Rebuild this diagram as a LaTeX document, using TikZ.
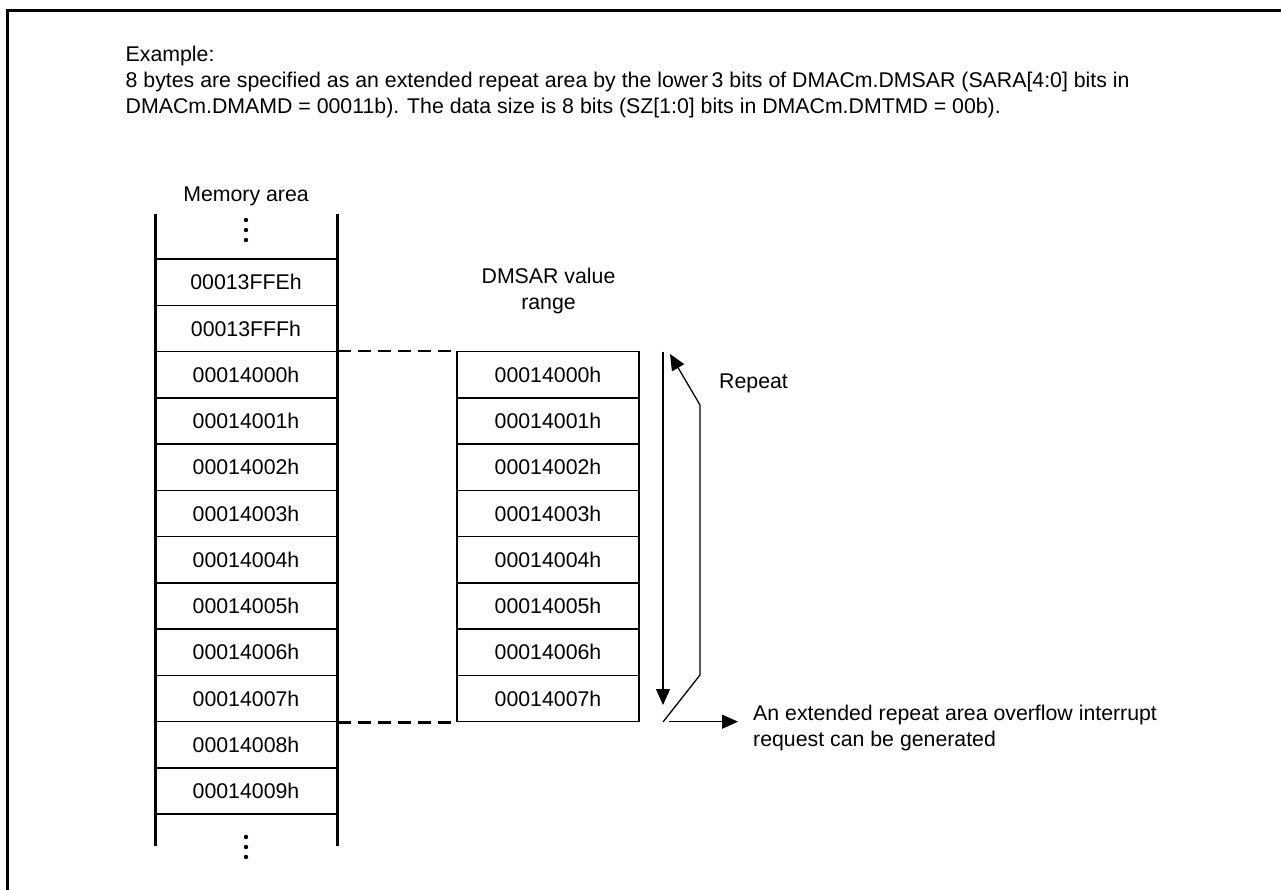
\documentclass[tikz,border=0pt]{standalone}
\usepackage{fontspec}
\setmainfont{Liberation Sans}
\usetikzlibrary{arrows.meta}
\tikzset{
  txt/.style={font=\fontsize{21.3}{25.7}\selectfont, inner sep=0pt},
  cell/.style={txt, draw, line width=1.5pt, minimum width=182pt, minimum height=46.25pt},
  side/.style={line width=3pt},
  dash line/.style={line width=2.7pt, dash pattern=on 13pt off 7pt},
  thin arrow/.style={line width=1.3pt, -{Triangle[length=16pt,width=14pt]}},
  thin line/.style={line width=1.3pt}
}
\begin{document}
\begin{tikzpicture}[x=1pt,y=-1pt]
\useasboundingbox (0,0) rectangle (1281,890);
% frame
\draw[line width=3pt] (7.5,890) -- (7.5,10.5) -- (1281,10.5);
% header
\node[txt, anchor=base west] (h1) at (125.5,62) {Example:};
\node[txt, anchor=base west] (h2) at (125.5,87.7) {8 bytes are specified as an extended repeat area by the lower\,3 bits of DMACm.DMSAR (SARA[4:0] bits in};
\node[txt, anchor=base west] (h3) at (125.5,113.4) {DMACm.DMAMD = 00011b). The data size is 8 bits (SZ[1:0] bits in DMACm.DMTMD = 00b).};
% memory area
\node[txt, anchor=base] (mtitle) at (246,201.7) {Memory area};
\foreach \i/\t in {0/00013FFEh,1/00013FFFh,2/00014000h,3/00014001h,4/00014002h,5/00014003h,6/00014004h,7/00014005h,8/00014006h,9/00014007h,10/00014008h,11/00014009h}{
  \node[cell] (m\i) at (246,{259.2+46.25*(\i+0.5)}) {\t};
}
\coordinate (mtl) at (155,214);
\coordinate (mtr) at (337,214);
\coordinate (mbl) at (155,846);
\coordinate (mbr) at (337,846);
\draw[side] (mtl) -- (mbl);
\draw[side] (mtr) -- (mbr);
\foreach \y in {220,230,240,837,847,857}{
  \fill (246,\y) circle (2.2pt);
}
% DMSAR
\node[txt, anchor=base] (dtitle1) at (548.5,284) {DMSAR value};
\node[txt, anchor=base] (dtitle2) at (548.5,309) {range};
\foreach \i/\t in {2/00014000h,3/00014001h,4/00014002h,5/00014003h,6/00014004h,7/00014005h,8/00014006h,9/00014007h}{
  \node[cell] (d\i) at (548,{259.2+46.25*(\i+0.5)}) {\t};
}
\draw[dash line] (m2.north east) -- (d2.north west);
\draw[dash line] (m9.south east) -- (d9.south west);
% arrows
\coordinate (dtop) at (663,351.7);
\coordinate (dbot) at (663,705);
\draw[thin arrow] (dtop) -- (dbot);
\coordinate (r0) at (663,722);
\coordinate (r1) at (700,675);
\coordinate (r2) at (700,405);
\coordinate (r3) at (670,354);
\draw[thin line] (r0) -- (r1) -- (r2);
\draw[thin arrow] (r2) -- (r3);
\node[txt, anchor=base west] (rep) at (719,388.3) {Repeat};
\coordinate (o0) at (669,721.7);
\node[txt, anchor=base west] (ov1) at (753,720.7) {An extended repeat area overflow interrupt};
\node[txt, anchor=base west] (ov2) at (753,746.4) {request can be generated};
\coordinate (o1) at (738,721.7);
\draw[thin arrow] (o0) -- (o1);
\end{tikzpicture}
\end{document}
